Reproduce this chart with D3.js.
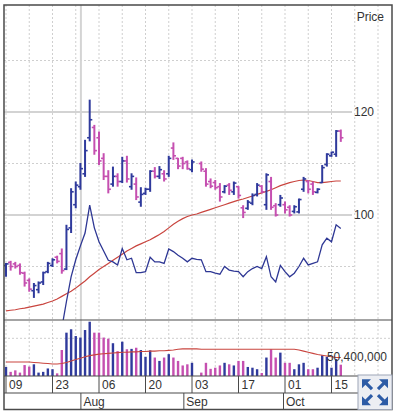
<html>
<head>
  <title>Price chart</title>
  <script src="https://d3js.org/d3.v7.min.js"></script>
  <style>
    body { margin: 0; background: #fff; }
    text { font-family: "Liberation Sans", Arial, sans-serif; font-size: 12px; fill: #333; }
  </style>
</head>
<body>
<script>

// ---- data (one entry per trading day, null = no bar) ----
var openP  = [90.2,90.8,90.5,90.2,88.7,87.3,85.3,85.5,87.0,89.0,
              90.2,91.8,92.5,89.5,97.5,102.0,105.5,108.0,115.0,117.0,
              115.0,111.0,107.5,106.0,107.5,106.5,110.5,105.5,106.0,102.5,
              104.2,105.0,108.5,107.5,108.0,108.0,113.0,111.0,111.0,110.3,
              108.8,null,110.0,108.5,106.5,106.3,105.5,104.5,105.8,104.5,
              105.5,101.4,101.3,102.3,104.0,105.6,102.0,106.5,101.8,102.0,
              102.0,101.5,100.7,100.6,105.0,106.5,106.0,104.4,106.3,109.8,
              111.5,111.8,116.3];
var highP  = [90.7,91.1,90.9,90.6,89.0,87.7,86.8,87.1,89.0,90.9,
              91.6,92.1,93.5,98.1,105.2,106.5,110.1,114.6,122.4,117.5,
              116.2,112.0,108.7,109.4,108.1,111.3,111.5,108.1,107.3,105.4,
              105.3,108.7,109.3,109.5,108.7,111.5,114.1,111.1,111.3,110.6,
              110.8,null,110.4,109.1,107.1,106.8,106.2,105.8,106.2,106.5,
              105.6,101.9,102.9,104.2,106.2,105.8,108.1,107.4,102.3,103.9,
              102.6,101.9,101.9,103.2,107.4,106.8,106.5,105.2,109.7,112.0,
              112.3,116.5,116.6];
var lowP   = [88.0,89.2,89.6,88.4,86.1,85.1,83.9,84.8,86.4,88.7,
              89.9,90.6,88.6,89.3,96.5,101.3,104.9,107.4,114.3,111.7,
              109.7,106.8,104.2,105.5,105.5,106.2,106.3,104.9,102.9,101.6,
              103.9,104.5,107.1,107.0,106.5,107.4,110.7,108.9,108.9,108.8,
              108.3,null,108.4,105.5,105.2,104.9,102.6,104.2,103.9,103.9,
              103.2,99.4,101.0,101.9,103.6,104.2,101.0,101.0,99.7,101.6,
              100.3,99.7,100.3,100.3,104.5,104.2,103.9,104.2,106.2,109.4,
              111.3,111.3,114.2];
var closeP = [90.5,90.0,90.0,88.8,86.8,85.6,86.3,86.8,88.8,90.6,
              91.3,91.0,89.2,97.2,104.5,105.8,109.0,112.5,118.5,112.5,
              110.5,107.5,105.0,107.5,106.5,110.5,107.0,107.5,103.5,104.0,
              105.0,108.5,107.5,108.8,107.0,111.0,111.5,109.5,110.0,109.0,
              110.3,null,108.9,106.0,105.6,105.3,103.5,105.6,104.8,106.2,
              103.8,100.5,102.5,103.8,105.8,104.5,107.8,101.5,100.0,103.3,
              101.0,100.0,101.6,103.0,107.0,105.0,104.5,105.0,109.2,111.8,
              112.2,116.3,115.0];
// volume in millions
var volume = [24,11,15,9,29,25,31,9,11,20,
              18,7,69,115,124,106,102,122,144,115,
              115,102,99,87,66,91,71,72,75,69,
              51,68,49,40,49,58,49,40,28,31,
              35,null,9,35,19,22,28,35,31,28,
              40,40,24,22,18,8,49,71,49,62,
              35,35,18,31,35,18,18,22,55,51,
              22,45,30];
// red moving average on price
var priceAvg = [81.4,81.5,81.6,81.8,81.9,82.1,82.3,82.5,82.7,83.0,
                83.3,83.7,84.2,84.7,85.2,85.8,86.5,87.2,88.0,88.7,
                89.4,90.0,90.6,91.2,91.8,92.4,93.0,93.5,94.0,94.4,
                94.8,95.2,95.7,96.2,96.8,97.5,98.2,98.8,99.3,99.7,
                100.0,100.2,100.5,100.8,101.1,101.4,101.7,102.0,102.3,102.6,
                102.9,103.1,103.4,103.7,104.0,104.3,104.6,104.9,105.3,105.7,
                106.0,106.3,106.5,106.7,106.8,106.7,106.5,106.3,106.3,106.4,
                106.5,106.6,106.6];
// blue comparison line (drawn on the price axis)
var compLine = [null,null,null,null,null,null,null,null,null,null,
                null,null,78.0,83.2,88.0,91.3,94.0,96.5,101.9,97.5,
                94.8,93.0,91.2,90.9,90.3,93.5,91.3,91.6,88.8,88.8,
                89.0,91.8,90.9,90.9,90.6,93.4,92.9,92.2,91.6,90.9,
                91.6,91.4,91.3,89.0,89.0,88.7,88.5,90.0,89.3,89.1,
                89.0,88.0,89.0,89.6,90.0,89.6,91.9,88.0,87.0,90.2,
                89.0,88.0,88.7,90.0,91.6,90.3,90.6,90.9,94.2,95.5,
                94.8,98.1,97.4];
// red moving average on volume (millions)
var volumeAvg = [37,37,37,37,37,37,36,35,34,33,
                 32,32,33,36,40,44,47,51,54,56,
                 58,59,60,61,62,63,63,64,64,65,
                 65,66,66,67,67,68,69,71,72,72,
                 72,72,71,71,71,71,71,71,71,71,
                 71,71,71,71,71,71,71,71,71,71,
                 71,71,71,69,66,63,60,57,55,53,
                 51,49,49];

var dayTicks    = ["2018-07-09","2018-07-23","2018-08-06","2018-08-20","2018-09-03","2018-09-17","2018-10-01","2018-10-15"];
var monthTicks  = ["2018-08-01","2018-09-01","2018-10-01"];
var markerDays  = ["2018-08-01"];
var priceLabels = [100, 120];
var priceGrid   = [90, 110, 130];
var volumeGrid  = [100];
var volumeNote  = { value: 50.4, text: "50,400,000" };

// ---- layout ----
var W = 400, H = 417;
var padL = 4, padR = 392, padT = 5;
var priceBottom = 320, volBottom = 376, dayBottom = 393, monthBottom = 409.5;
var blue = "#2f3a9c", pink = "#c54fb0", red = "#c9453f", grid = "#cfcfcf";

var parse = d3.timeParse("%Y-%m-%d");

var svg = d3.select("body").append("svg").attr("width", W).attr("height", H);

// bars are spaced by trading day, the date rows by calendar day
var x = d3.scaleLinear().domain([0, 70]).range([6, 331.5]);
var t = d3.scaleTime().domain([parse(dayTicks[0]), parse(dayTicks[7])]).range([6, 331.5]);
var y = d3.scaleLinear().domain([79.61, 140.78]).range([priceBottom, padT]);
var yv = d3.scaleLinear().domain([0, 148.6]).range([volBottom, priceBottom]);

var idx = d3.range(openP.length);
var bars = idx.filter(function(i){ return openP[i] != null; });
function col(i){ return closeP[i] >= openP[i] ? blue : pink; }

svg.append("rect").attr("x", padL).attr("y", padT).attr("width", padR-padL).attr("height", monthBottom-padT).attr("fill", "#fff");

var defs = svg.append("defs");
defs.append("clipPath").attr("id", "pclip").append("rect")
    .attr("x", padL).attr("y", padT).attr("width", padR-padL).attr("height", priceBottom-padT);

// ---- grid ----
var weekly = d3.range(0, 81, 5);
svg.append("g").selectAll("line").data(weekly).enter().append("line")
   .attr("x1", function(d){ return x(d); }).attr("x2", function(d){ return x(d); })
   .attr("y1", padT).attr("y2", volBottom)
   .attr("stroke", grid).attr("stroke-dasharray", "2,2");

svg.append("g").selectAll("line").data(priceGrid).enter().append("line")
   .attr("x1", padL).attr("x2", 356)
   .attr("y1", function(d){ return y(d); }).attr("y2", function(d){ return y(d); })
   .attr("stroke", grid).attr("stroke-dasharray", "2,2");

svg.append("g").selectAll("line").data(volumeGrid).enter().append("line")
   .attr("x1", padL).attr("x2", padR)
   .attr("y1", function(d){ return yv(d); }).attr("y2", function(d){ return yv(d); })
   .attr("stroke", grid).attr("stroke-dasharray", "2,2");

svg.append("g").selectAll("line").data(priceLabels).enter().append("line")
   .attr("x1", padL).attr("x2", 352)
   .attr("y1", function(d){ return y(d); }).attr("y2", function(d){ return y(d); })
   .attr("stroke", "#c4c4c4").attr("stroke-width", 1.5);

svg.append("g").selectAll("line").data(markerDays).enter().append("line")
   .attr("x1", function(d){ return t(parse(d)) - 1.5; }).attr("x2", function(d){ return t(parse(d)) - 1.5; })
   .attr("y1", padT).attr("y2", volBottom)
   .attr("stroke", "#d4d4d4").attr("stroke-width", 2);

// ---- price panel ----
var pg = svg.append("g").attr("clip-path", "url(#pclip)");

var avgLine = d3.line().x(function(d,i){ return x(i); }).y(function(d){ return y(d); });
pg.append("path").attr("d", avgLine(priceAvg))
  .attr("fill", "none").attr("stroke", red).attr("stroke-width", 1.2);

var cmp = d3.line().defined(function(d){ return d != null; })
            .x(function(d,i){ return x(i); }).y(function(d){ return y(d); });
pg.append("path").attr("d", cmp(compLine))
  .attr("fill", "none").attr("stroke", "#2e3794").attr("stroke-width", 1.3);

var ohlc = pg.selectAll("g.bar").data(bars).enter().append("g").attr("class", "bar")
             .attr("stroke", col);
ohlc.append("line")
    .attr("x1", function(i){ return x(i); }).attr("x2", function(i){ return x(i); })
    .attr("y1", function(i){ return y(highP[i]); }).attr("y2", function(i){ return y(lowP[i]); })
    .attr("stroke-width", 2);
ohlc.append("line")
    .attr("x1", function(i){ return x(i) - 2.6; }).attr("x2", function(i){ return x(i); })
    .attr("y1", function(i){ return y(openP[i]); }).attr("y2", function(i){ return y(openP[i]); })
    .attr("stroke-width", 1.6);
ohlc.append("line")
    .attr("x1", function(i){ return x(i); }).attr("x2", function(i){ return x(i) + 2.6; })
    .attr("y1", function(i){ return y(closeP[i]); }).attr("y2", function(i){ return y(closeP[i]); })
    .attr("stroke-width", 1.6);

// ---- volume panel ----
svg.append("g").selectAll("rect").data(bars).enter().append("rect")
   .attr("x", function(i){ return x(i) - 1.2; })
   .attr("width", 2.4)
   .attr("y", function(i){ return yv(volume[i]); })
   .attr("height", function(i){ return volBottom - yv(volume[i]); })
   .attr("fill", col);

var vAvg = d3.line().x(function(d,i){ return x(i); }).y(function(d){ return yv(d); });
svg.append("path").attr("d", vAvg(volumeAvg))
   .attr("fill", "none").attr("stroke", red).attr("stroke-width", 1.1);

svg.append("text").text(volumeNote.text)
   .attr("x", 387).attr("y", yv(volumeNote.value) + 4)
   .attr("text-anchor", "end");

// ---- labels on the price axis ----
svg.append("text").text("Price").attr("x", 384).attr("y", 21).attr("text-anchor", "end");
svg.append("g").selectAll("text").data(priceLabels).enter().append("text")
   .text(function(d){ return d; })
   .attr("x", 354).attr("y", function(d){ return y(d) + 4; });

// ---- date rows ----
var lineCol = "#4a4a4a";
svg.append("g").selectAll("line").data(dayTicks).enter().append("line")
   .attr("x1", function(d){ return t(parse(d)); }).attr("x2", function(d){ return t(parse(d)); })
   .attr("y1", volBottom).attr("y2", dayBottom).attr("stroke", lineCol);
svg.append("g").selectAll("text").data(dayTicks).enter().append("text")
   .text(function(d){ return d3.timeFormat("%d")(parse(d)); })
   .attr("x", function(d){ return t(parse(d)) + 3; }).attr("y", 389);

svg.append("g").selectAll("line").data(monthTicks).enter().append("line")
   .attr("x1", function(d){ return t(parse(d)) - 1.5; }).attr("x2", function(d){ return t(parse(d)) - 1.5; })
   .attr("y1", dayBottom).attr("y2", monthBottom).attr("stroke", lineCol);
svg.append("g").selectAll("text").data(monthTicks).enter().append("text")
   .text(function(d){ return d3.timeFormat("%b")(parse(d)); })
   .attr("x", function(d){ return t(parse(d)) + 1; }).attr("y", 406);

// ---- frame ----
[priceBottom, volBottom, dayBottom].forEach(function(yy){
  svg.append("line").attr("x1", padL).attr("x2", padR).attr("y1", yy).attr("y2", yy)
     .attr("stroke", lineCol).attr("stroke-width", 1.2);
});
svg.append("rect").attr("x", padL).attr("y", padT).attr("width", padR-padL).attr("height", monthBottom-padT)
   .attr("fill", "none").attr("stroke", "#4a4a4a").attr("stroke-width", 1.5);

// ---- expand icon in the corner ----
var icon = svg.append("g");
icon.append("rect").attr("x", 358).attr("y", 375).attr("width", 34).attr("height", 34.5)
    .attr("fill", "#eceef3").attr("stroke", "#9ea6b8");
var cx = 375, cy = 392.2;
[[-1,-1],[1,-1],[-1,1],[1,1]].forEach(function(d){
  var dx = d[0], dy = d[1];
  icon.append("path")
      .attr("d", "M" + (cx+dx*13) + "," + (cy+dy*13) + " L" + (cx+dx*4) + "," + (cy+dy*13) + " L" + (cx+dx*13) + "," + (cy+dy*4) + " Z")
      .attr("fill", "#2c5ba6");
  icon.append("line")
      .attr("x1", cx+dx*3).attr("y1", cy+dy*3).attr("x2", cx+dx*9).attr("y2", cy+dy*9)
      .attr("stroke", "#2c5ba6").attr("stroke-width", 3.2);
});

</script>
</body>
</html>
